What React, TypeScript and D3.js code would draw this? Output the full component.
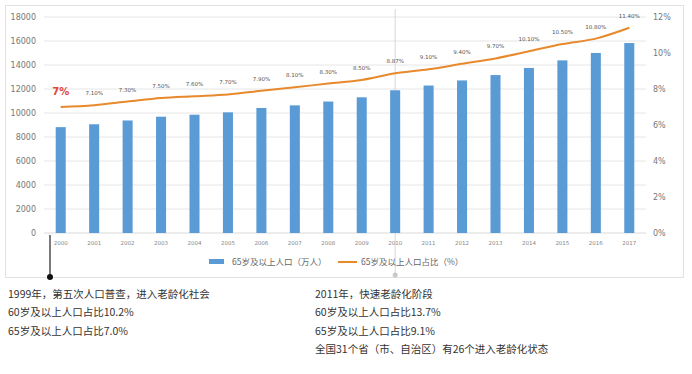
import React from "react";
import * as d3 from "d3";

const years = ["2000","2001","2002","2003","2004","2005","2006","2007","2008","2009","2010","2011","2012","2013","2014","2015","2016","2017"];
const population = [8821, 9062, 9377, 9692, 9857, 10055, 10419, 10636, 10956, 11307, 11894, 12288, 12714, 13161, 13755, 14386, 15003, 15831];
const share = [7.0, 7.1, 7.3, 7.5, 7.6, 7.7, 7.9, 8.1, 8.3, 8.5, 8.87, 9.1, 9.4, 9.7, 10.1, 10.5, 10.8, 11.4];
const shareLabels = ["7%", "7.10%", "7.30%", "7.50%", "7.60%", "7.70%", "7.90%", "8.10%", "8.30%", "8.50%", "8.87%", "9.10%", "9.40%", "9.70%", "10.10%", "10.50%", "10.80%", "11.40%"];
const leftTicks = [0, 2000, 4000, 6000, 8000, 10000, 12000, 14000, 16000, 18000];
const rightTicks = [0, 2, 4, 6, 8, 10, 12];
const noteLeft = ["1999年，第五次人口普查，进入老龄化社会", "60岁及以上人口占比10.2%", "65岁及以上人口占比7.0%"];
const noteRight = ["2011年，快速老龄化阶段", "60岁及以上人口占比13.7%", "65岁及以上人口占比9.1%", "全国31个省（市、自治区）有26个进入老龄化状态"];

const W = 692;
const H = 374;
const PLOT = { left: 44, right: 646, top: 17, bottom: 233 };
const BLUE = "#5b9bd5";
const ORANGE = "#e8892c";
const CJK = "'Noto Sans CJK SC', 'Noto Sans', sans-serif";

export default function App() {
  const x = d3.scaleBand().domain(years).range([PLOT.left, PLOT.right]).paddingInner(0.7).paddingOuter(0.35);
  const yL = d3.scaleLinear().domain([0, 18000]).range([PLOT.bottom, PLOT.top]);
  const yR = d3.scaleLinear().domain([0, 12]).range([PLOT.bottom, PLOT.top]);
  const cx = (yr: string) => (x(yr) as number) + x.bandwidth() / 2;

  const line = d3
    .line<number>()
    .x((_, i) => cx(years[i]))
    .y((d) => yR(d))
    .curve(d3.curveMonotoneX);

  const x2010 = cx("2010");

  return (
    <svg width={W} height={H} style={{ position: "absolute", left: 0, top: 0, background: "#fff" }}>
      <rect x={5.5} y={5.5} width={678} height={272} fill="#fff" stroke="#e2e2e2" />

      {leftTicks.map((t) => (
        <g key={t}>
          {t > 0 && <line x1={PLOT.left} x2={PLOT.right} y1={yL(t)} y2={yL(t)} stroke="#e6e6e6" />}
          <text x={36} y={yL(t)} dy="0.35em" textAnchor="end" fontSize={8} fill="#777" fontFamily="'DejaVu Sans', sans-serif">{t}</text>
        </g>
      ))}
      <line x1={PLOT.left} x2={PLOT.right} y1={PLOT.bottom} y2={PLOT.bottom} stroke="#d9d9d9" />
      {rightTicks.map((t) => (
        <text key={t} x={653} y={yR(t)} dy="0.35em" fontSize={8} fill="#777" fontFamily="'DejaVu Sans', sans-serif">{t}%</text>
      ))}

      <line x1={x2010} x2={x2010} y1={PLOT.top - 8} y2={274} stroke="#cfcfcf" strokeWidth={0.8} />
      <circle cx={x2010} cy={275} r={2.5} fill="#c8c8c8" />

      {years.map((yr, i) => (
        <rect key={yr} x={x(yr)} y={yL(population[i])} width={x.bandwidth()} height={PLOT.bottom - yL(population[i])} fill={BLUE} />
      ))}
      {years.map((yr) => (
        <text key={yr} x={cx(yr)} y={245} textAnchor="middle" fontSize={5.5} fill="#888" fontFamily="'DejaVu Sans', sans-serif">{yr}</text>
      ))}

      <path d={line(share) || ""} fill="none" stroke={ORANGE} strokeWidth={2} />
      {years.map((yr, i) =>
        i === 0 ? (
          <text key={yr} x={cx(yr)} y={yR(share[i]) - 12} textAnchor="middle" fontSize={10} fontWeight="bold" fill="#e0453a" fontFamily="'DejaVu Sans', sans-serif">{shareLabels[i]}</text>
        ) : (
          <text key={yr} x={cx(yr)} y={yR(share[i]) - 10} textAnchor="middle" fontSize={5.5} fill="#555" fontFamily="'DejaVu Sans', sans-serif">{shareLabels[i]}</text>
        )
      )}

      <g fontFamily={CJK} fontSize={8.5} fill="#666">
        <rect x={209} y={259} width={15} height={5} fill={BLUE} />
        <text x={232} y={262} dy="0.35em">65岁及以上人口（万人）</text>
        <line x1={338} x2={357} y1={262} y2={262} stroke={ORANGE} strokeWidth={2} />
        <text x={361} y={262} dy="0.35em">65岁及以上人口占比（%）</text>
      </g>

      <line x1={50} x2={50} y1={PLOT.bottom + 2} y2={277} stroke="#222" strokeWidth={1.2} />
      <circle cx={50} cy={277} r={3} fill="#111" />

      <g fontFamily={CJK} fontSize={10.5} fill="#333">
        {noteLeft.map((s, i) => (
          <text key={s} x={8} y={294 + i * 18.5} dy="0.35em">{s}</text>
        ))}
        {noteRight.map((s, i) => (
          <text key={s} x={315} y={294 + i * 18.5} dy="0.35em">{s}</text>
        ))}
      </g>
    </svg>
  );
}
